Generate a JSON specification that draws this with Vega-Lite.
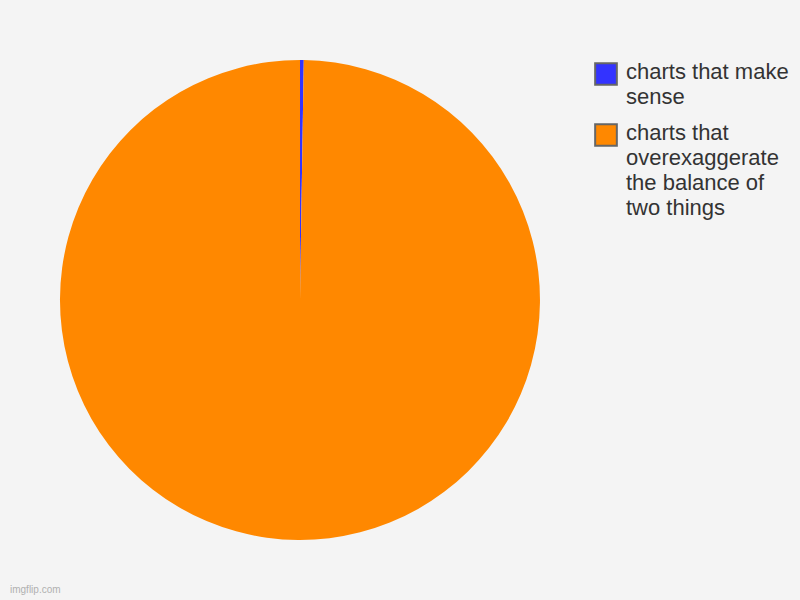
{
  "$schema": "https://vega.github.io/schema/vega-lite/v6.json",
  "width": 600,
  "height": 600,
  "autosize": {"type": "none"},
  "padding": {"left": 0, "top": 0, "right": 200, "bottom": 0},
  "background": "#f4f4f4",
  "title": {
    "text": "imgflip.com",
    "orient": "bottom",
    "anchor": "start",
    "frame": "group",
    "offset": -15,
    "fontSize": 10,
    "font": "Liberation Sans",
    "fontWeight": "normal",
    "color": "#b0b0b0",
    "dx": 10
  },
  "data": {
    "values": [
      {"category": "charts that make sense", "value": 0.25, "rank": 1},
      {"category": "charts that overexaggerate the balance of two things", "value": 99.75, "rank": 2}
    ]
  },
  "mark": {"type": "arc", "outerRadius": 240},
  "encoding": {
    "theta": {"field": "value", "type": "quantitative", "stack": true},
    "order": {"field": "rank", "type": "quantitative"},
    "color": {
      "field": "category",
      "type": "nominal",
      "scale": {
        "domain": ["charts that make sense", "charts that overexaggerate the balance of two things"],
        "range": ["#3333ff", "#ff8800"]
      },
      "legend": {
        "title": null,
        "orient": "none",
        "legendX": 594,
        "legendY": 62,
        "symbolType": "square",
        "symbolSize": 470,
        "symbolStrokeColor": "#666666",
        "symbolStrokeWidth": 2,
        "symbolOpacity": 1,
        "labelFont": "Liberation Sans",
        "labelFontSize": 22,
        "labelColor": "#333333",
        "labelOffset": 8,
        "labelLimit": 0,
        "labelBaseline": "top",
        "rowPadding": 12,
        "labelExpr": "datum.value == 'charts that make sense' ? ['charts that make', 'sense'] : ['charts that', 'overexaggerate', 'the balance of', 'two things']",
        "encode": {
          "labels": {"update": {"lineHeight": {"value": 25}, "dy": {"value": -12}}}
        }
      }
    }
  }
}
